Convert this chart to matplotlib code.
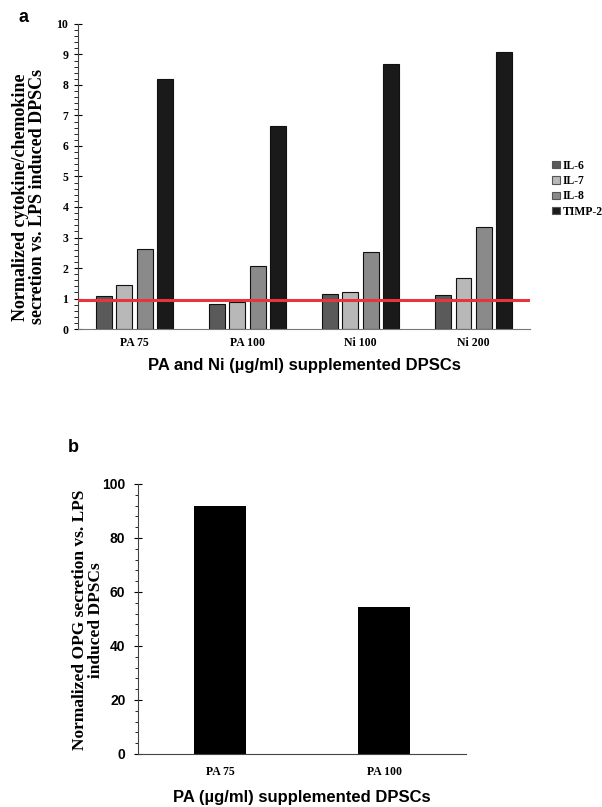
import numpy as np
import matplotlib
matplotlib.use('Agg')
import matplotlib.pyplot as plt
from matplotlib.ticker import MultipleLocator

# dados do painel a
grupos_a = ['PA 75', 'PA 100', 'Ni 100', 'Ni 200']
series = ['IL-6', 'IL-7', 'IL-8', 'TIMP-2']
il6 = [1.09, 0.82, 1.14, 1.10]
il7 = [1.44, 0.89, 1.20, 1.67]
il8 = [2.61, 2.08, 2.54, 3.34]
timp2 = [8.21, 6.66, 8.68, 9.08]
linha_ref = 0.94

# dados do painel b
grupos_b = ['PA 75', 'PA 100']
opg = [92.0, 54.6]

serif = 'Liberation Serif'
sans = 'Liberation Sans'

fig = plt.figure(figsize=(6.02, 8.07), dpi=100)

# painel a
ax1 = fig.add_axes([0.1296, 0.5923, 0.751, 0.378])
cores = ['#5a5a5a', '#b8b8b8', '#8a8a8a', '#1a1a1a']
x = np.arange(len(grupos_a))
passo = 0.18
larg = 0.14
for i, (nome, vals) in enumerate(zip(series, [il6, il7, il8, timp2])):
    ax1.bar(x + (i - 1.5) * passo, vals, width=larg, color=cores[i],
            edgecolor='#111111', linewidth=0.8, label=nome, zorder=2)
ax1.axhline(linha_ref, color='#e8343c', linewidth=2.2, zorder=3)
ax1.set_xlim(-0.5, 3.5)
ax1.set_ylim(0, 10)
ax1.yaxis.set_major_locator(MultipleLocator(1))
ax1.yaxis.set_minor_locator(MultipleLocator(0.2))
ax1.tick_params(axis='y', which='major', direction='inout', length=6, width=0.8, labelsize=8.5, pad=4)
ax1.tick_params(axis='y', which='minor', direction='out', length=3, width=0.6)
ax1.tick_params(axis='x', length=0, labelsize=8.5, pad=6)
ax1.set_xticks(x)
ax1.set_xticklabels(grupos_a)
for t in ax1.get_xticklabels() + ax1.get_yticklabels():
    t.set_fontfamily(serif)
    t.set_fontweight('bold')
ax1.spines['top'].set_visible(False)
ax1.spines['right'].set_visible(False)
ax1.spines['bottom'].set_color('#777777')
ax1.spines['left'].set_color('#444444')
fig.text(0.049, 0.756, 'Normalized cytokine/chemokine\nsecretion vs. LPS induced DPSCs',
         rotation=90, ha='center', va='center', multialignment='center',
         fontfamily=serif, fontweight='bold', fontsize=13, linespacing=1.0)
ax1.set_xlabel('PA and Ni (µg/ml) supplemented DPSCs', fontfamily=sans,
               fontweight='bold', fontsize=12, labelpad=6)
leg = fig.legend(loc='center left', bbox_to_anchor=(0.9, 0.766), frameon=False,
                 prop={'family': serif, 'weight': 'bold', 'size': 8.5},
                 handlelength=0.6, handleheight=0.6, handletextpad=0.3, labelspacing=0.28)
for h in leg.legend_handles:
    h.set_edgecolor('#555555')
fig.text(0.03, 0.978, 'a', fontfamily=sans, fontweight='bold', fontsize=13, va='center')

# painel b
ax2 = fig.add_axes([0.2292, 0.0657, 0.5449, 0.3346])
xb = np.arange(len(grupos_b))
ax2.bar(xb, opg, width=0.32, color='black', zorder=2)
ax2.set_xlim(-0.5, 1.5)
ax2.set_ylim(0, 100)
ax2.yaxis.set_major_locator(MultipleLocator(20))
ax2.yaxis.set_minor_locator(MultipleLocator(4))
ax2.tick_params(axis='y', which='major', direction='inout', length=6, width=0.8, labelsize=10, pad=6)
ax2.tick_params(axis='y', which='minor', direction='out', length=2.5, width=0.6)
ax2.tick_params(axis='x', length=0, labelsize=8.5, pad=9)
ax2.set_xticks(xb)
ax2.set_xticklabels(grupos_b)
for t in ax2.get_xticklabels():
    t.set_fontfamily(serif)
    t.set_fontweight('bold')
for t in ax2.get_yticklabels():
    t.set_fontfamily(sans)
    t.set_fontweight('bold')
ax2.spines['top'].set_visible(False)
ax2.spines['right'].set_visible(False)
ax2.spines['bottom'].set_color('#444444')
ax2.spines['left'].set_color('#444444')
fig.text(0.146, 0.232, 'Normalized OPG secretion vs. LPS\ninduced DPSCs',
         rotation=90, ha='center', va='center', multialignment='center',
         fontfamily=serif, fontweight='bold', fontsize=12.5, linespacing=1.0)
ax2.set_xlabel('PA (µg/ml) supplemented DPSCs', fontfamily=sans,
               fontweight='bold', fontsize=12, labelpad=8)
fig.text(0.112, 0.445, 'b', fontfamily=sans, fontweight='bold', fontsize=13, va='center')

fig.savefig('out.png', dpi=100, facecolor='white')
